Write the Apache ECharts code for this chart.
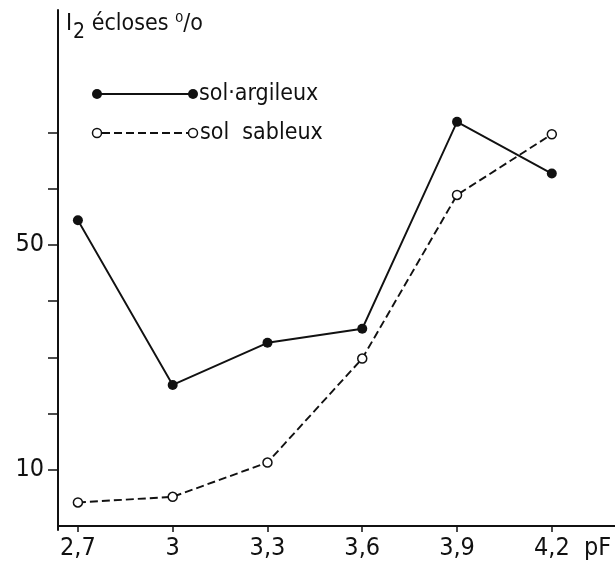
<!DOCTYPE html>
<html>
<head>
<meta charset="utf-8">
<script src="https://cdn.jsdelivr.net/npm/echarts@6/dist/echarts.min.js"></script>
<style>
  html, body { margin: 0; padding: 0; background: #fff; }
  #chart { width: 615px; height: 562px; }
</style>
</head>
<body>
<div id="chart"></div>
<script>
const pF = [2.7, 3, 3.3, 3.6, 3.9, 4.2]
const solArgileux = [54.4, 25.1, 32.6, 35.1, 71.9, 62.7]
const solSableux = [4.2, 5.2, 11.3, 29.8, 58.9, 69.7]
const yTicks = [10, 20, 30, 40, 50, 60, 70]
const yLabels = [10, 50]

const font = "'DejaVu Sans Condensed', 'Liberation Sans', sans-serif"

const chart = echarts.init(document.getElementById('chart'))

const option = {
  backgroundColor: '#fff',
  animation: false,
  grid: { left: 58, right: 0, top: 10, bottom: 32 },
  xAxis: {
    type: 'value',
    min: 2.637,
    max: 4.4,
    axisLine: { lineStyle: { color: '#111', width: 2 } },
    axisTick: { show: true, customValues: pF, length: 6, lineStyle: { color: '#111', width: 1.5 } },
    axisLabel: {
      customValues: pF,
      margin: 6,
      color: '#111',
      fontSize: 25,
      fontFamily: font,
      formatter: v => String(v).replace('.', ',')
    },
    splitLine: { show: false }
  },
  yAxis: {
    type: 'value',
    min: -0.7,
    max: 91.8,
    axisLine: { show: true, lineStyle: { color: '#111', width: 2 } },
    axisTick: { show: true, customValues: yTicks, length: 10, lineStyle: { color: '#111', width: 1.5 } },
    axisLabel: { customValues: yLabels, margin: 14, color: '#111', fontSize: 25, fontFamily: font },
    splitLine: { show: false }
  },
  series: [
    {
      name: 'sol argileux',
      type: 'line',
      data: pF.map((x, i) => [x, solArgileux[i]]),
      symbol: 'circle',
      symbolSize: 10,
      itemStyle: { color: '#111' },
      lineStyle: { color: '#111', width: 1.9 }
    },
    {
      name: 'sol sableux',
      type: 'line',
      data: pF.map((x, i) => [x, solSableux[i]]),
      symbol: 'circle',
      symbolSize: 9,
      itemStyle: { color: '#fff', borderColor: '#111', borderWidth: 1.5 },
      lineStyle: { color: '#111', width: 1.9, type: [8, 4] },
      z: 3
    }
  ],
  graphic: [
    {
      type: 'text', left: 66, top: 13,
      style: {
        text: '{a|I}{s|2}{a| écloses }{p|⁰/o}',
        rich: {
          a: { fontSize: 23, fontFamily: font, fill: '#111' },
          s: { fontSize: 21, fontFamily: font, fill: '#111', padding: [16, 0, 0, 1] },
          p: { fontSize: 23, fontFamily: font, fill: '#111' }
        }
      }
    },
    { type: 'line', shape: { x1: 97, y1: 94, x2: 193, y2: 94 }, style: { stroke: '#111', lineWidth: 1.9 } },
    { type: 'circle', shape: { cx: 97, cy: 94, r: 5 }, style: { fill: '#111' } },
    { type: 'circle', shape: { cx: 193, cy: 94, r: 5 }, style: { fill: '#111' } },
    { type: 'text', left: 199, top: 83, style: { text: 'sol·argileux', fontSize: 23, fontFamily: font, fill: '#111' } },
    { type: 'line', shape: { x1: 102, y1: 133, x2: 188, y2: 133 }, style: { stroke: '#111', lineWidth: 1.9, lineDash: [8, 4] } },
    { type: 'circle', shape: { cx: 97, cy: 133, r: 4.5 }, style: { fill: '#fff', stroke: '#111', lineWidth: 1.5 } },
    { type: 'circle', shape: { cx: 193, cy: 133, r: 4.5 }, style: { fill: '#fff', stroke: '#111', lineWidth: 1.5 } },
    { type: 'text', left: 200, top: 122, style: { text: 'sol  sableux', fontSize: 23, fontFamily: font, fill: '#111' } },
    { type: 'text', left: 584, top: 536, style: { text: 'pF', fontSize: 25, fontFamily: font, fill: '#111' } }
  ]
}

chart.setOption(option)
</script>
</body>
</html>
